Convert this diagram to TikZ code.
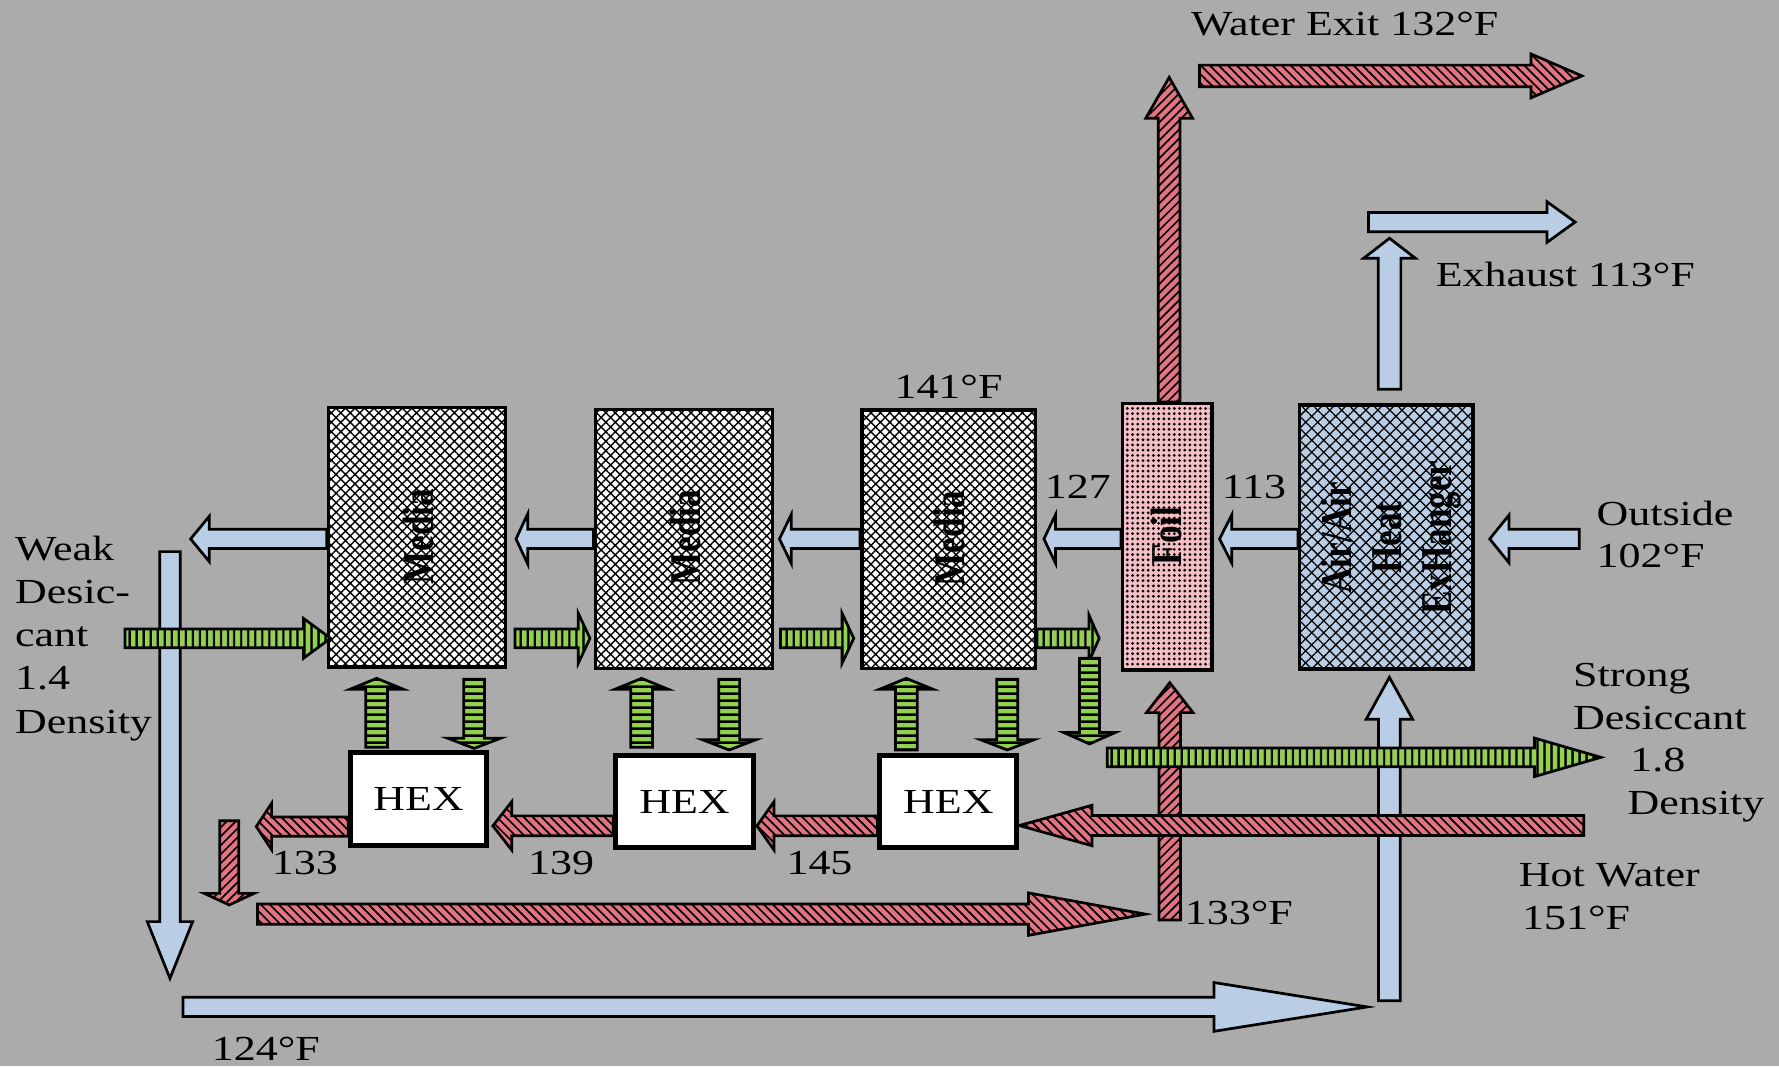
\documentclass[tikz,border=0pt]{standalone}
\usepackage{fontspec}
\setmainfont{Liberation Serif}[FakeStretch=1.25]
\newfontfamily\rotfont{Liberation Serif}
\usepackage{graphicx}
\usetikzlibrary{patterns.meta}
\definecolor{bgc}{RGB}{171,171,171}
\definecolor{redc}{RGB}{226,116,130}
\definecolor{bluec}{RGB}{185,205,229}
\definecolor{greenc}{RGB}{146,208,80}
\definecolor{foilc}{RGB}{243,190,196}
\newcommand\labfont{\fontsize{31}{38}\selectfont}
\newcommand\rotlabfont{\rotfont\bfseries\fontsize{31}{35}\selectfont}
% horizontal block arrow: style, x start, x tip, y, shaft half, head half, head length
\newcommand\harr[7]{\pgfmathsetmacro\arhb{#3-sign(#3-#2)*#7}\path[#1] (#2,#4-#5) -- (\arhb,#4-#5) -- (\arhb,#4-#6) -- (#3,#4) -- (\arhb,#4+#6) -- (\arhb,#4+#5) -- (#2,#4+#5) -- cycle;}
% vertical block arrow: style, y start, y tip, x, shaft half, head half, head length
\newcommand\varr[7]{\pgfmathsetmacro\arhb{#3-sign(#3-#2)*#7}\path[#1] (#4-#5,#2) -- (#4-#5,\arhb) -- (#4-#6,\arhb) -- (#4,#3) -- (#4+#6,\arhb) -- (#4+#5,\arhb) -- (#4+#5,#2) -- cycle;}
\tikzset{
 arrbase/.style={draw=black, line width=2.4pt, line join=miter, miter limit=20},
 bluearr/.style={arrbase, fill=bluec},
 redh/.style={arrbase, preaction={fill=redc}, pattern={Lines[angle=-45,distance=5.6pt,line width=1.5pt]}, pattern color=black},
 redv/.style={arrbase, preaction={fill=redc}, pattern={Lines[angle=45,distance=5.6pt,line width=1.5pt]}, pattern color=black},
 greenh/.style={arrbase, preaction={fill=greenc}, pattern={Lines[angle=90,distance=6.5pt,line width=2.3pt]}, pattern color=black},
 greenv/.style={arrbase, preaction={fill=greenc}, pattern={Lines[angle=0,distance=6.5pt,line width=2.3pt]}, pattern color=black},
 mediabox/.style={draw=black, line width=3pt, preaction={fill=white}, pattern={Hatch[angle=45,distance=5.9pt,line width=1.25pt]}, pattern color=black, inner sep=0},
 foilbox/.style={draw=black, line width=3pt, preaction={fill=foilc}, pattern={Dots[radius=1.35pt,distance=4.6pt]}, pattern color=black, inner sep=0},
 hxbox/.style={draw=black, line width=3pt, preaction={fill=bluec}, pattern={Hatch[angle=45,distance=7.5pt,line width=1.1pt]}, pattern color=black, inner sep=0},
 hexbox/.style={draw=black, line width=4.4pt, fill=white, inner sep=0, font=\labfont},
 lab/.style={inner sep=0, font=\labfont},
 rotlab/.style={inner sep=0, rotate=90, font=\rotlabfont},
}
\begin{document}
\begin{tikzpicture}[x=1pt,y=-1pt]
\useasboundingbox (0,0) rectangle (1568,939.6);
\fill[bgc] (0,0) rectangle (1568,939.6);
% blue air arrows
\varr{bluearr}{486.2}{862.3}{149.8}{9}{20}{50}
\harr{bluearr}{161.2}{1205}{887.5}{8.5}{21.5}{135}
\varr{bluearr}{882}{597}{1224.6}{9.6}{20.5}{37}
\varr{bluearr}{343}{210}{1224.7}{10}{22.9}{17.7}
\harr{bluearr}{1206.2}{1388.3}{195.7}{8.5}{17.9}{24.8}
\harr{bluearr}{1392}{1313}{475}{8.5}{21}{17}
\harr{bluearr}{1144}{1074.9}{475}{8.5}{21.3}{10.8}
\harr{bluearr}{988}{920.1}{475}{8.5}{21.3}{10.2}
\harr{bluearr}{758}{687}{475}{8.5}{21.3}{10.3}
\harr{bluearr}{523}{454.8}{475}{8.5}{22}{10.3}
\harr{bluearr}{288}{168}{475}{8.5}{20}{16.5}
% red water verticals
\varr{redv}{354.3}{68.2}{1030.5}{9.6}{20.6}{36}
\harr{redh}{1057.3}{1394.3}{66.9}{9.5}{19.4}{45}
\varr{redv}{810.9}{601.7}{1031}{9.5}{20.5}{26.4}
% boxes
\node[mediabox, minimum width=156.3pt, minimum height=228.6pt] (m1) at (367.5,473.6) {};
\node[mediabox, minimum width=156pt, minimum height=228.2pt] (m2) at (603,474.9) {};
\node[mediabox, minimum width=152.8pt, minimum height=227.6pt] (m3) at (836.2,475.2) {};
\node[foilbox, minimum width=78.8pt, minimum height=234.7pt] (foil) at (1028.7,473.15) {};
\node[hxbox, minimum width=152.8pt, minimum height=232.6pt] (hx) at (1221.9,473.3) {};
\node[hexbox, minimum width=119.6pt, minimum height=81.6pt] (h1) at (369,704.1) {HEX};
\node[hexbox, minimum width=121.1pt, minimum height=80.8pt] (h2) at (603.35,706.6) {HEX};
\node[hexbox, minimum width=120.6pt, minimum height=80.6pt] (h3) at (835.9,706.5) {HEX};
\node[rotlab] (m1l) at (368.8,473) {\scalebox{1}[1.25]{Media}};
\node[rotlab] (m2l) at (604,474) {\scalebox{1}[1.25]{Media}};
\node[rotlab] (m3l) at (836.5,474.5) {\scalebox{1}[1.25]{Media}};
\node[rotlab] (foill) at (1028.4,472.3) {\scalebox{1}[1.25]{Foil}};
\node[rotlab] (hxl) at (1226.6,474) {\scalebox{1}[1.25]{\begin{tabular}{@{}c@{}}Air/Air\\Heat\\ExHanger\end{tabular}}};
% green desiccant arrows
\harr{greenh}{110.2}{291.4}{562.6}{8.3}{17.6}{24}
\harr{greenh}{453.9}{520}{562.6}{8.3}{22}{10.3}
\harr{greenh}{688}{752.5}{562.6}{8.3}{22}{10.3}
\harr{greenh}{914.1}{968.8}{562.6}{8.3}{20.5}{9}
\varr{greenv}{658.7}{597.9}{332}{9.6}{23.5}{9.6}
\varr{greenv}{658.7}{597.9}{565.5}{9.6}{23.5}{9.6}
\varr{greenv}{661}{597.9}{798.8}{9.6}{23.5}{9.6}
\varr{greenv}{598.7}{659.6}{417.9}{9.2}{23.5}{9}
\varr{greenv}{598.7}{661}{642.7}{9.2}{23.5}{9}
\varr{greenv}{598.7}{661}{887.8}{9.2}{23.5}{9}
\varr{greenv}{580.2}{655.7}{960.3}{8.8}{22.5}{10}
\harr{greenh}{975.9}{1411}{667.5}{8.3}{17}{58.6}
% red hot water arrows
\harr{redh}{1395.8}{898.4}{727.6}{8.8}{17.8}{64}
\harr{redh}{773.4}{667.2}{727.9}{8.8}{21.3}{15}
\harr{redh}{540.6}{434.4}{727.9}{8.8}{21.3}{16.6}
\harr{redh}{306.9}{225.9}{728.5}{8.5}{20.5}{13.5}
\varr{redv}{723.3}{797.6}{202}{8.4}{22}{10.2}
\harr{redh}{227}{1009.5}{805.7}{9}{18.7}{103}
% labels
\node[lab, anchor=base west] (wexit) at (1049.7,31.7) {Water Exit 132°F};
\node[lab, anchor=base west] (exh) at (1265.3,252.7) {Exhaust 113°F};
\node[lab, anchor=base] (t141) at (836,350.8) {141°F};
\node[lab, anchor=base] (t127) at (950.1,439.2) {127};
\node[lab, anchor=base] (t113) at (1105.2,439.2) {113};
\node[lab, anchor=base west] (out1) at (1407,463) {Outside};
\node[lab, anchor=base west] (out2) at (1407,500) {102°F};
\node[lab, anchor=base west] (wd1) at (13.2,494.2) {Weak};
\node[lab, anchor=base west] (wd2) at (13.2,531.8) {Desic-};
\node[lab, anchor=base west] (wd3) at (13.2,570) {cant};
\node[lab, anchor=base west] (wd4) at (13.2,608.1) {1.4};
\node[lab, anchor=base west] (wd5) at (13.2,646.3) {Density};
\node[lab, anchor=base west] (sd1) at (1386.4,605.2) {Strong};
\node[lab, anchor=base west] (sd2) at (1386.4,643.4) {Desiccant};
\node[lab, anchor=base west] (sd3) at (1436.8,680.1) {1.8};
\node[lab, anchor=base west] (sd4) at (1434.4,718.3) {Density};
\node[lab, anchor=base west] (hw1) at (1338.5,781.5) {Hot Water};
\node[lab, anchor=base west] (hw2) at (1341.4,819.1) {151°F};
\node[lab, anchor=base west] (t133f) at (1044.2,814.4) {133°F};
\node[lab, anchor=base] (t133) at (268.7,770.5) {133};
\node[lab, anchor=base] (t139) at (494.6,770.5) {139};
\node[lab, anchor=base] (t145) at (722.3,770.5) {145};
\node[lab, anchor=base west] (t124) at (186.6,934.5) {124°F};
\end{tikzpicture}
\end{document}
